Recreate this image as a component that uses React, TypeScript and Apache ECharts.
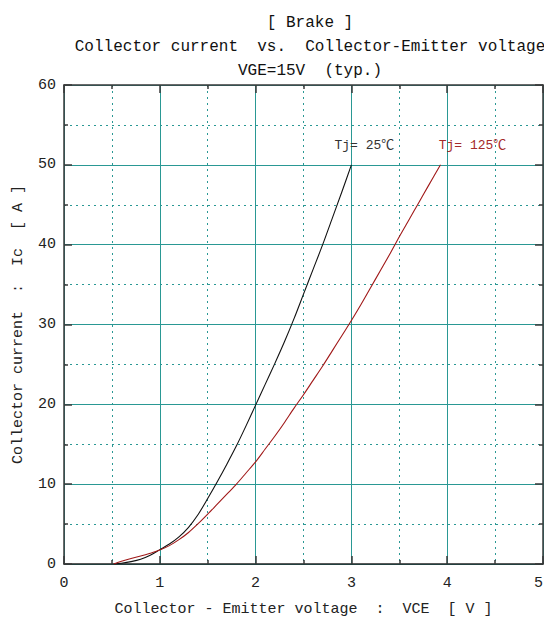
import React, { useEffect, useRef } from "react";
import * as echarts from "echarts";

const FONT = "'Liberation Mono', 'DejaVu Sans Mono', 'Noto Sans CJK JP', monospace";

const titleLines = ["[ Brake ]", "Collector current  vs.  Collector-Emitter voltage", "VGE=15V  (typ.)"];
const xAxisName = "Collector - Emitter voltage  :  VCE  [ V ]";
const yAxisName = "Collector current  :  Ic  [ A ]";

const xRange = [0, 5];
const yRange = [0, 60];
const xMajor = 1;
const yMajor = 10;

// Tj = 25°C
const vce25 = [0.52, 0.6, 0.7, 0.8, 0.9, 1.0, 1.1, 1.2, 1.3, 1.4, 1.5, 1.6, 1.7, 1.8, 1.9, 2.0, 2.1, 2.2, 2.3, 2.4, 2.5, 2.6, 2.7, 2.8, 2.9, 3.0];
const ic25 = [0, 0.1, 0.3, 0.6, 1.1, 1.8, 2.5, 3.4, 4.6, 6.2, 8.2, 10.3, 12.5, 14.8, 17.3, 19.9, 22.5, 25.1, 27.8, 30.7, 33.8, 36.9, 40.0, 43.3, 46.6, 50.0];

// Tj = 125°C
const vce125 = [0.52, 0.6, 0.7, 0.8, 0.9, 1.0, 1.1, 1.2, 1.3, 1.4, 1.5, 1.6, 1.7, 1.8, 1.9, 2.0, 2.1, 2.2, 2.3, 2.4, 2.5, 2.6, 2.7, 2.8, 2.9, 3.0, 3.1, 3.2, 3.3, 3.4, 3.5, 3.6, 3.7, 3.8, 3.93];
const ic125 = [0, 0.35, 0.7, 1.0, 1.35, 1.75, 2.3, 3.05, 3.95, 5.05, 6.25, 7.5, 8.75, 10.0, 11.4, 12.8, 14.4, 16.0, 17.7, 19.5, 21.2, 23.0, 24.8, 26.7, 28.6, 30.5, 32.5, 34.6, 36.7, 38.8, 41.0, 43.1, 45.2, 47.3, 50.0];

const labels = ["Tj= 25℃", "Tj= 125℃"];
const colors = ["#111111", "#a01818"];
const labelColors = ["#333333", "#a52a2a"];

const zip = (xs: number[], ys: number[]) => xs.map((x, i) => [x, ys[i]]);

export default function App() {
  const ref = useRef<HTMLDivElement>(null);
  useEffect(() => {
    if (!ref.current) return;
    const chart = echarts.init(ref.current, undefined, { renderer: "svg" });
    const teal = "#2a9894";
    const frame = "#3a3a3a";
    const baseAxis = {
      type: "value" as const,
      axisLine: { show: true, onZero: false, lineStyle: { color: frame, width: 1.5 } },
      axisTick: { show: true, inside: true, length: 8, lineStyle: { color: frame, width: 1.5 } },
      minorTick: { show: true, splitNumber: 2, length: 4, lineStyle: { color: frame, width: 1.5 } },
    };
    const makeSeries = (xs: number[], ys: number[], i: number, off: number[]) => ({
      type: "line",
      data: zip(xs, ys),
      showSymbol: false,
      symbol: "none",
      smooth: 0.3,
      lineStyle: { color: colors[i], width: 1.1 },
      itemStyle: { color: colors[i] },
      markPoint: {
        symbol: "circle",
        symbolSize: 0,
        data: [{ coord: [xs[xs.length - 1], ys[ys.length - 1]] }],
        label: {
          show: true,
          formatter: labels[i],
          position: "top",
          offset: off,
          color: labelColors[i],
          fontSize: 13,
          fontFamily: FONT,
        },
      },
    });
    chart.setOption({
      animation: false,
      backgroundColor: "#ffffff",
      title: {
        text: titleLines.join("\n"),
        left: 305,
        top: 6,
        textAlign: "center",
        textStyle: { fontFamily: FONT, fontSize: 16, fontWeight: "normal", color: "#111", lineHeight: 24 },
      },
      grid: { left: 64, right: 1, top: 85, bottom: 54, containLabel: false, outerBoundsMode: "none" },
      xAxis: [
        {
          ...baseAxis,
          position: "bottom",
          min: xRange[0],
          max: xRange[1],
          interval: xMajor,
          axisLine: { show: true, onZero: false, lineStyle: { color: "#222", width: 1.5 } },
          axisLabel: { show: true, margin: 12, fontFamily: FONT, fontSize: 15, color: "#222", alignMaxLabel: "right" },
          splitLine: { show: true, lineStyle: { color: teal, width: 1 } },
          minorSplitLine: { show: true, lineStyle: { color: teal, width: 1, type: [2, 4] } },
          name: xAxisName,
          nameLocation: "middle",
          nameGap: 38,
          nameTextStyle: { fontFamily: FONT, fontSize: 15, color: "#222" },
        },
        {
          ...baseAxis,
          position: "top",
          min: xRange[0],
          max: xRange[1],
          interval: xMajor,
          axisLabel: { show: false },
          splitLine: { show: false },
        },
      ],
      yAxis: [
        {
          ...baseAxis,
          position: "left",
          min: yRange[0],
          max: yRange[1],
          interval: yMajor,
          axisLabel: { show: true, margin: 8, fontFamily: FONT, fontSize: 15, color: "#222" },
          splitLine: { show: true, lineStyle: { color: teal, width: 1 } },
          minorSplitLine: { show: true, lineStyle: { color: teal, width: 1, type: [2, 4] } },
          name: yAxisName,
          nameLocation: "middle",
          nameGap: 38,
          nameTextStyle: { fontFamily: FONT, fontSize: 15, color: "#222" },
        },
        {
          ...baseAxis,
          position: "right",
          min: yRange[0],
          max: yRange[1],
          interval: yMajor,
          axisLabel: { show: false },
          splitLine: { show: false },
        },
      ],
      series: [makeSeries(vce25, ic25, 0, [13, -8]), makeSeries(vce125, ic125, 1, [32, -8])],
    });
    return () => chart.dispose();
  }, []);
  return <div ref={ref} style={{ position: "fixed", left: 0, top: 0, width: 544, height: 618 }} />;
}
